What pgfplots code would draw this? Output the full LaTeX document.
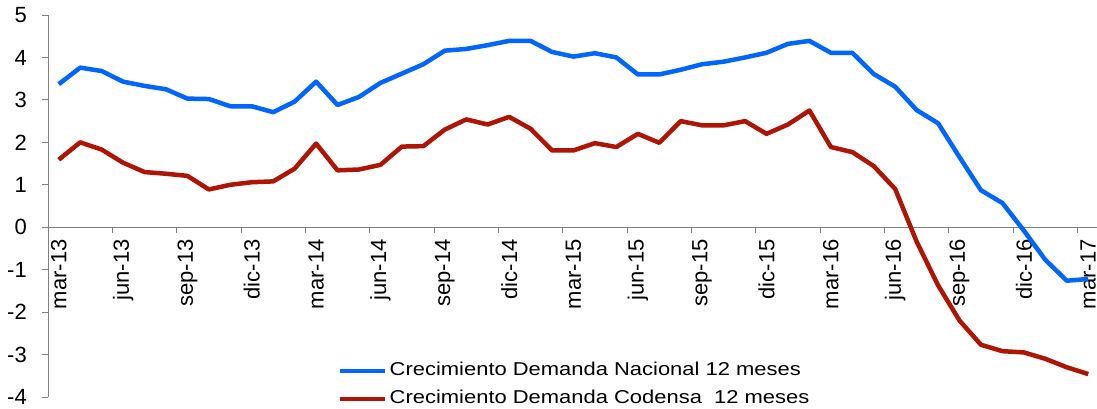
\documentclass[border=0pt]{standalone}
\usepackage{pgfplots}
\pgfplotsset{compat=1.18}
\usepackage{fontspec}
\setmainfont{Liberation Sans}
\newfontfamily\legfont{Liberation Sans}[FakeStretch=1.18]
\definecolor{cblue}{RGB}{0,102,255}
\definecolor{cred}{RGB}{175,20,5}
\definecolor{axgray}{RGB}{128,128,128}
\pgfplotstableread{
x nac cod
0 3.37 1.59
1 3.76 2.00
2 3.68 1.83
3 3.43 1.52
4 3.33 1.30
5 3.25 1.26
6 3.03 1.21
7 3.02 0.89
8 2.85 1.00
9 2.85 1.06
10 2.71 1.08
11 2.96 1.38
12 3.43 1.97
13 2.88 1.34
14 3.07 1.36
15 3.40 1.47
16 3.62 1.90
17 3.84 1.91
18 4.16 2.30
19 4.20 2.54
20 4.29 2.42
21 4.39 2.60
22 4.39 2.32
23 4.13 1.81
24 4.02 1.81
25 4.10 1.98
26 4.00 1.89
27 3.60 2.20
28 3.60 1.99
29 3.71 2.50
30 3.84 2.40
31 3.90 2.40
32 4.00 2.50
33 4.11 2.20
34 4.32 2.42
35 4.39 2.75
36 4.11 1.89
37 4.11 1.77
38 3.61 1.44
39 3.31 0.90
40 2.76 -0.34
41 2.45 -1.37
42 1.65 -2.20
43 0.87 -2.77
44 0.57 -2.92
45 -0.08 -2.95
46 -0.77 -3.10
47 -1.26 -3.30
48 -1.22 -3.46
}\datatable
\begin{document}
\fontsize{22bp}{26bp}\selectfont
\begin{tikzpicture}
\path[use as bounding box] (-48bp,-12bp) rectangle (1049bp,397bp);
\begin{axis}[
  scale only axis, width=1051bp, height=382bp,
  xmin=-0.5, xmax=48.5, ymin=-4, ymax=5,
  axis x line*=middle, axis y line*=left,
  axis line style={axgray, line width=0.8bp, -},
  tick style={axgray, line width=0.8bp},
  tick align=outside,
  major tick length=6bp, minor tick length=6bp,
  xtick={0,3,...,48},
  xticklabels={mar-13,jun-13,sep-13,dic-13,mar-14,jun-14,sep-14,dic-14,mar-15,jun-15,sep-15,dic-15,mar-16,jun-16,sep-16,dic-16,mar-17},
  every major x tick/.append style={draw=none},
  minor xtick={2.5,5.5,...,47.5},
  ytick={-4,-3,...,5},
  yticklabels={-4,-3,-2,-1,0,1,2,3,4,5},
  xticklabel shift=6bp,
  xticklabel style={rotate=90, anchor=east, inner sep=0pt, font=\fontsize{22bp}{26bp}\selectfont},
  yticklabel style={xshift=-15bp, anchor=east, inner sep=0pt, font=\fontsize{22bp}{26bp}\selectfont},
  legend style={at={(axis description cs:0.2755,0.031)}, anchor=west, draw=none, fill=none, inner sep=0pt,
    font=\legfont\fontsize{18.6bp}{22bp}\selectfont, row sep=11bp, column sep=3bp,
    nodes={inner sep=0pt, text height=13bp, text depth=4bp}},
  legend cell align=left,
  legend image code/.code={\draw[#1, line width=4bp] (0bp,0bp) -- (45bp,0bp);},
  line join=round,
]
\addplot[cblue, line width=4.5bp] table[x=x, y=nac] {\datatable};
\addlegendentry{Crecimiento Demanda Nacional 12 meses}
\addplot[cred, line width=4.5bp] table[x=x, y=cod] {\datatable};
\addlegendentry{Crecimiento Demanda Codensa\ \ 12 meses}
\end{axis}
\end{tikzpicture}
\end{document}
